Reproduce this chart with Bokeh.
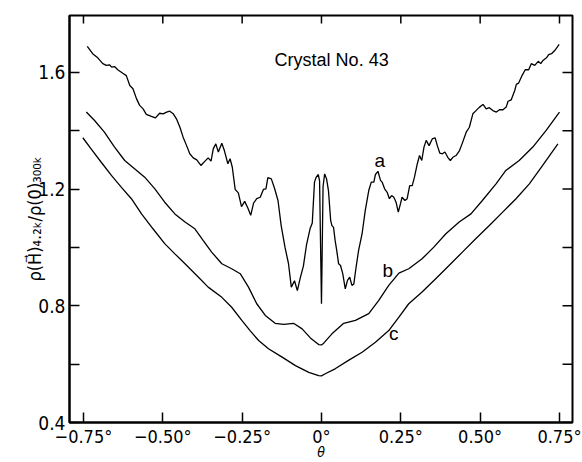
import math
from bokeh.plotting import figure
from bokeh.models import Range1d, FixedTicker, LinearAxis, Label
from bokeh.embed import file_html
from bokeh.resources import INLINE

# ---- data ----
a_x = [-0.738, -0.721, -0.705, -0.689, -0.678, -0.668, -0.661, -0.652, -0.642, -0.626,
       -0.615, -0.604, -0.594, -0.583, -0.573, -0.562, -0.552, -0.536, -0.523, -0.510,
       -0.499, -0.488, -0.478, -0.467, -0.457, -0.446, -0.436, -0.425, -0.415, -0.404,
       -0.393, -0.380, -0.367, -0.357, -0.348, -0.341, -0.333, -0.325, -0.314, -0.306,
       -0.295, -0.288, -0.281, -0.272, -0.262, -0.252, -0.242, -0.232, -0.223, -0.214,
       -0.204, -0.193, -0.183, -0.175, -0.169, -0.158, -0.148, -0.137, -0.127, -0.115,
       -0.104, -0.095, -0.085, -0.076, -0.067, -0.057, -0.047, -0.036, -0.029, -0.022,
       -0.017, -0.010, -0.006, 0.000, 0.005, 0.010, 0.016, 0.022, 0.029, 0.033,
       0.038, 0.043, 0.048, 0.054, 0.060, 0.067, 0.075, 0.082, 0.089, 0.096,
       0.102, 0.109, 0.117, 0.128, 0.138, 0.149, 0.157, 0.165, 0.170, 0.178,
       0.186, 0.191, 0.199, 0.207, 0.214, 0.221, 0.228, 0.235, 0.242, 0.249,
       0.254, 0.263, 0.270, 0.278, 0.286, 0.293, 0.302, 0.309, 0.316, 0.323,
       0.330, 0.339, 0.349, 0.358, 0.365, 0.373, 0.381, 0.389, 0.398, 0.406,
       0.414, 0.424, 0.435, 0.445, 0.456, 0.466, 0.477, 0.487, 0.498, 0.509,
       0.519, 0.529, 0.540, 0.551, 0.561, 0.572, 0.582, 0.588, 0.598, 0.609,
       0.614, 0.621, 0.632, 0.642, 0.653, 0.661, 0.672, 0.683, 0.691, 0.698,
       0.709, 0.716, 0.725, 0.735, 0.749]
a_y = [1.689, 1.664, 1.650, 1.630, 1.624, 1.626, 1.618, 1.620, 1.609, 1.597,
       1.589, 1.555, 1.544, 1.510, 1.487, 1.475, 1.456, 1.449, 1.444, 1.460,
       1.458, 1.464, 1.467, 1.458, 1.441, 1.412, 1.378, 1.349, 1.321, 1.307,
       1.300, 1.281, 1.296, 1.307, 1.296, 1.338, 1.355, 1.327, 1.357, 1.332,
       1.287, 1.304, 1.275, 1.199, 1.187, 1.140, 1.158, 1.135, 1.110, 1.152,
       1.167, 1.172, 1.199, 1.201, 1.239, 1.235, 1.203, 1.161, 1.075, 1.001,
       0.945, 0.864, 0.886, 0.852, 0.895, 0.936, 1.010, 1.064, 1.084, 1.224,
       1.240, 1.250, 1.228, 0.807, 1.209, 1.252, 1.235, 1.195, 1.092, 1.075,
       1.069, 1.024, 0.990, 0.944, 0.938, 0.910, 0.858, 0.887, 0.898, 0.870,
       0.875, 0.932, 0.990, 1.047, 1.127, 1.195, 1.224, 1.224, 1.250, 1.261,
       1.230, 1.224, 1.201, 1.189, 1.167, 1.178, 1.172, 1.155, 1.121, 1.150,
       1.172, 1.161, 1.167, 1.212, 1.212, 1.241, 1.287, 1.315, 1.298, 1.344,
       1.367, 1.349, 1.372, 1.376, 1.349, 1.323, 1.321, 1.327, 1.309, 1.298,
       1.309, 1.315, 1.332, 1.361, 1.395, 1.412, 1.458, 1.469, 1.481, 1.490,
       1.475, 1.479, 1.469, 1.464, 1.472, 1.472, 1.481, 1.501, 1.506, 1.538,
       1.559, 1.563, 1.589, 1.609, 1.609, 1.630, 1.624, 1.638, 1.630, 1.641,
       1.650, 1.661, 1.664, 1.675, 1.696]

b_x = [-0.741, -0.715, -0.684, -0.652, -0.620, -0.589, -0.557, -0.525, -0.494, -0.462,
       -0.430, -0.399, -0.373, -0.346, -0.314, -0.283, -0.256, -0.230, -0.204, -0.177,
       -0.146, -0.119, -0.088, -0.061, -0.035, -0.009, 0.000, 0.007, 0.033, 0.070,
       0.107, 0.149, 0.180, 0.212, 0.244, 0.275, 0.317, 0.354, 0.392, 0.434,
       0.471, 0.507, 0.550, 0.581, 0.623, 0.666, 0.708, 0.750]
b_y = [1.464, 1.435, 1.395, 1.344, 1.298, 1.270, 1.241, 1.201, 1.155, 1.115,
       1.087, 1.064, 1.024, 0.984, 0.944, 0.927, 0.910, 0.864, 0.807, 0.767,
       0.740, 0.736, 0.740, 0.721, 0.690, 0.667, 0.666, 0.672, 0.704, 0.740,
       0.750, 0.773, 0.818, 0.870, 0.912, 0.927, 0.961, 1.001, 1.047, 1.087,
       1.115, 1.161, 1.218, 1.264, 1.298, 1.344, 1.401, 1.464]

c_x = [-0.752, -0.726, -0.694, -0.662, -0.631, -0.599, -0.567, -0.531, -0.494, -0.462,
       -0.430, -0.393, -0.357, -0.314, -0.283, -0.251, -0.225, -0.198, -0.167, -0.124,
       -0.082, -0.040, -0.009, 0.000, 0.012, 0.043, 0.085, 0.128, 0.170, 0.212,
       0.244, 0.275, 0.317, 0.360, 0.402, 0.444, 0.486, 0.529, 0.571, 0.613,
       0.655, 0.697, 0.745]
c_y = [1.376, 1.338, 1.292, 1.247, 1.207, 1.167, 1.115, 1.064, 1.013, 0.978,
       0.944, 0.904, 0.864, 0.829, 0.795, 0.750, 0.715, 0.681, 0.653, 0.624,
       0.595, 0.572, 0.561, 0.560, 0.567, 0.584, 0.613, 0.641, 0.675, 0.715,
       0.761, 0.807, 0.847, 0.893, 0.938, 0.984, 1.030, 1.075, 1.121, 1.167,
       1.218, 1.281, 1.355]

x_ticks = [-0.75, -0.5, -0.25, 0.0, 0.25, 0.5, 0.75]
x_tick_labels = ["\u22120.75\u00b0", "\u22120.50\u00b0", "\u22120.25\u00b0", "0\u00b0",
                 "0.25\u00b0", "0.50\u00b0", "0.75\u00b0"]
y_ticks = [0.4, 0.8, 1.2, 1.6]
y_minor_ticks = [0.6, 1.0, 1.4]
y_tick_labels = ["0.4", "0.8", "1.2", "1.6"]

FONT = "Liberation Sans Narrow, DejaVu Sans Condensed, Liberation Sans, sans-serif"
X0, X1 = -0.794, 0.791
Y0, Y1 = 0.4, 1.795

p = figure(width=582, height=462, output_backend="svg", toolbar_location=None,
           x_range=Range1d(X0, X1), y_range=Range1d(Y0, Y1),
           min_border_left=69, min_border_right=10, min_border_top=15, min_border_bottom=40,
           x_axis_location=None, y_axis_location=None)
p.background_fill_color = "white"
p.border_fill_color = "white"
p.outline_line_color = "black"
p.outline_line_width = 2
p.xgrid.visible = False
p.ygrid.visible = False

def style(ax, size):
    ax.axis_line_color = "black"
    ax.axis_line_width = 2
    ax.major_tick_in = 10
    ax.major_tick_out = 0
    ax.minor_tick_in = 10
    ax.minor_tick_out = 0
    ax.major_tick_line_width = 1.5
    ax.minor_tick_line_width = 1.5
    ax.major_tick_line_color = "black"
    ax.minor_tick_line_color = "black"
    ax.major_label_text_font = FONT
    ax.major_label_text_font_size = size
    ax.major_label_text_color = "black"

xt = FixedTicker(ticks=x_ticks)
yt = FixedTicker(ticks=y_ticks, minor_ticks=y_minor_ticks)

xb = LinearAxis(ticker=xt)
style(xb, "18px")
xb.major_label_overrides = dict(zip(x_ticks, x_tick_labels))
xb.major_label_standoff = 3
xb.axis_label = "\u03b8"
xb.axis_label_text_font = FONT
xb.axis_label_text_font_size = "14px"
xb.axis_label_text_font_style = "italic"
xb.axis_label_text_color = "black"
xb.axis_label_standoff = -6
p.add_layout(xb, "below")

yl = LinearAxis(ticker=yt)
style(yl, "19px")
yl.major_label_overrides = dict(zip(y_ticks, y_tick_labels))
yl.major_label_standoff = 4
yl.axis_label = "\u03c1(H\u20d7)\u2084.\u2082\u2096/\u03c1(0)\u2083\u2080\u2080\u2096"
yl.axis_label_text_font = FONT
yl.axis_label_text_font_size = "18px"
yl.axis_label_text_font_style = "normal"
yl.axis_label_text_color = "black"
yl.axis_label_standoff = -10
p.add_layout(yl, "left")

# inward ticks on the top and right frame edges
p.ray(x=x_ticks, y=[Y1] * len(x_ticks), length=8, length_units="screen",
      angle=-math.pi / 2, line_color="black", line_width=1.5)
yr_all = y_ticks + y_minor_ticks
p.ray(x=[X1] * len(yr_all), y=yr_all, length=10, length_units="screen",
      angle=math.pi, line_color="black", line_width=1.5)

p.line(a_x, a_y, line_color="black", line_width=1.3)
p.line(b_x, b_y, line_color="black", line_width=1.3)
p.line(c_x, c_y, line_color="black", line_width=1.3)

p.add_layout(Label(x=0.032, y=1.641, text="Crystal No. 43", text_align="center",
                   text_baseline="middle", text_font="Liberation Sans",
                   text_font_size="18px", text_color="black"))
for t, lx, ly in [("a", 0.184, 1.298), ("b", 0.209, 0.921), ("c", 0.228, 0.705)]:
    p.add_layout(Label(x=lx, y=ly, text=t, text_align="center", text_baseline="middle",
                       text_font="Liberation Sans", text_font_size="19px", text_color="black"))

open("out.html", "w").write(file_html(p, INLINE))
